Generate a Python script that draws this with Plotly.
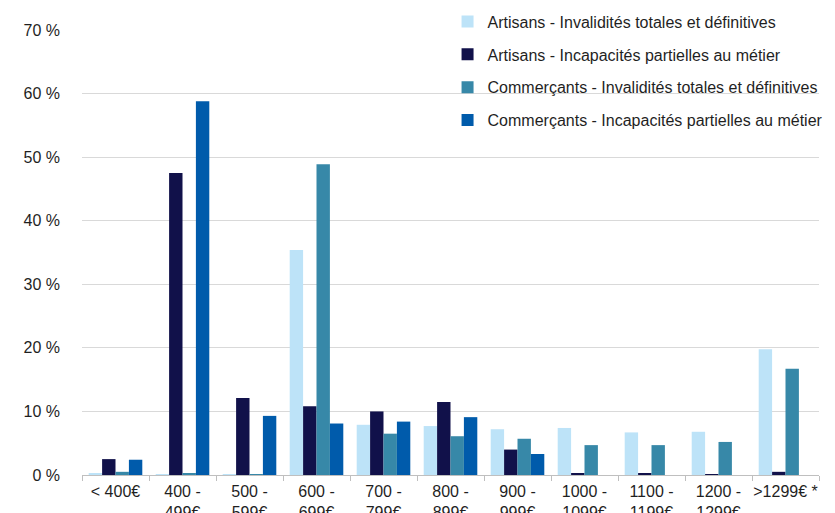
import plotly.graph_objects as go

categories = ["< 400€", "400 -<br>499€", "500 -<br>599€", "600 -<br>699€", "700 -<br>799€",
              "800 -<br>899€", "900 -<br>999€", "1000 -<br>1099€", "1100 -<br>1199€",
              "1200 -<br>1299€", ">1299€ *"]

series_names = [
    "Artisans - Invalidités totales et définitives",
    "Artisans - Incapacités partielles au métier",
    "Commerçants - Invalidités totales et définitives",
    "Commerçants - Incapacités partielles au métier",
]

y_tick_values = [0, 10, 20, 30, 40, 50, 60, 70]
y_tick_labels = ["0 %", "10 %", "20 %", "30 %", "40 %", "50 %", "60 %", "70 %"]

artisans_itd = [0.2, 0.1, 0.1, 35.4, 7.9, 7.7, 7.2, 7.4, 6.7, 6.8, 19.8]
artisans_ipm = [2.5, 47.5, 12.1, 10.8, 10.0, 11.5, 4.0, 0.2, 0.2, 0.1, 0.5]
commercants_itd = [0.5, 0.2, 0.1, 48.9, 6.5, 6.1, 5.7, 4.7, 4.7, 5.2, 16.7]
commercants_ipm = [2.4, 58.8, 9.3, 8.1, 8.4, 9.1, 3.3, 0.0, 0.0, 0.0, 0.0]

colors = ["#BDE3F8", "#11114A", "#3788A8", "#005BAB"]
values = [artisans_itd, artisans_ipm, commercants_itd, commercants_ipm]

fig = go.Figure()
for i, (name, vals) in enumerate(zip(series_names, values)):
    fig.add_trace(go.Bar(
        x=categories, y=vals, name=name,
        marker=dict(color=colors[i], line=dict(width=0)),
        legendgroup=f"g{i}",
    ))

font_family = "Liberation Sans, Arial, sans-serif"
fig.update_layout(
    width=835, height=513,
    margin=dict(l=74, r=24, t=22, b=46, autoexpand=False),
    paper_bgcolor="white", plot_bgcolor="white",
    barmode="group", bargap=0.2, bargroupgap=0,
    font=dict(family=font_family, size=16, color="#1F1F1F"),
    legend=dict(
        x=0.496, y=1.057, xanchor="left", yanchor="top",
        font=dict(size=16, color="#1F1F1F"),
        tracegroupgap=9, bgcolor="rgba(0,0,0,0)",
        itemwidth=30,
    ),
    showlegend=True,
)
fig.update_xaxes(
    type="category", showgrid=False, showline=True, linecolor="#BFBFBF", linewidth=1,
    ticks="outside", tickson="boundaries", ticklen=5, tickcolor="#BFBFBF",
    ticklabelstandoff=2, automargin=False, tickangle=0,
)
fig.update_yaxes(
    range=[0, 70], tickmode="array", tickvals=y_tick_values, ticktext=y_tick_labels,
    showgrid=True, gridcolor="#D9D9D9", gridwidth=1, zeroline=False, showline=False,
    ticks="", ticklabelstandoff=21, automargin=False,
)

fig.write_html("out.html")
